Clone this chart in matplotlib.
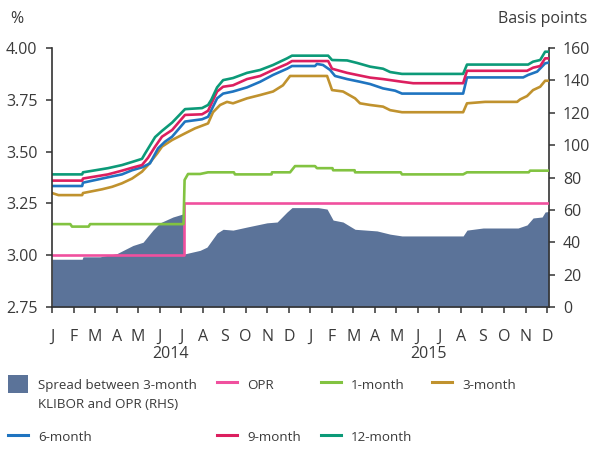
import matplotlib
matplotlib.use('Agg')
import matplotlib.pyplot as plt
import numpy as np
from matplotlib.patches import Patch
from matplotlib.lines import Line2D

plt.rcParams['font.family'] = ['Open Sans', 'DejaVu Sans']

# x positions are months since 1 Jan 2014 (0 = Jan 2014, 12 = Jan 2015)
month_labels = list('JFMAMJJASOND') * 2
years = ['2014', '2015']

# Spread between 3-month KLIBOR and OPR, basis points (RHS)
spread_x = [0, 1.40, 1.44, 2.23, 3.02, 3.76, 4.23, 4.69, 5.02, 5.62, 6.09, 6.13,
            6.88, 7.20, 7.67, 7.95, 8.41, 9.06, 9.99, 10.46, 10.92, 11.15, 12.36,
            12.78, 13.06, 13.52, 14.08, 15.10, 15.71, 16.26, 19.10, 19.28, 20.03,
            21.65, 22.07, 22.35, 22.77, 22.91, 23.09]
spread_bp = [29.5, 29.5, 31, 31, 33, 38, 40, 47.5, 52, 55.6, 57.5, 32.7,
             35, 37, 45.7, 48, 47.5, 49.4, 52, 52.5, 58.7, 61.4, 61.4,
             60.5, 53.7, 52.5, 48, 47, 45, 43.9, 43.9, 47.5, 48.8,
             48.8, 50.7, 55, 55.6, 58.7, 59]

# OPR, %
opr_x = [0, 6.13, 6.13, 23.09]
opr_v = [3.00, 3.00, 3.25, 3.25]

# 1-month KLIBOR, %
m1_x = [0, 0.85, 0.93, 1.70, 1.77, 6.11, 6.16, 6.32, 6.88, 7.25, 8.45, 8.50,
        10.20, 10.22, 11.06, 11.29, 12.22, 12.31, 13.03, 13.06, 14.06, 14.08,
        16.20, 16.26, 19.10, 19.28, 22.15, 22.21, 23.09]
m1_v = [3.15, 3.15, 3.138, 3.138, 3.15, 3.15, 3.363, 3.392, 3.392, 3.40, 3.40, 3.39,
        3.39, 3.40, 3.40, 3.43, 3.43, 3.42, 3.42, 3.41, 3.41, 3.40,
        3.40, 3.39, 3.39, 3.40, 3.40, 3.408, 3.408]

# 3-month KLIBOR, %
m3_x = [0, 0.3, 1.40, 1.44, 2.32, 2.79, 3.25, 3.72, 4.18, 4.46, 4.65, 4.88, 5.11,
        5.58, 6.18, 6.64, 7.25, 7.48, 7.81, 8.13, 8.41, 9.06, 9.67, 10.27, 10.73,
        11.06, 12.78, 13.01, 13.52, 14.08, 14.31, 14.78, 15.38, 15.71, 16.26,
        19.10, 19.28, 20.12, 21.61, 21.75, 22.07, 22.35, 22.68, 22.91, 23.09]
m3_v = [3.30, 3.29, 3.29, 3.30, 3.318, 3.33, 3.347, 3.37, 3.403, 3.435, 3.46, 3.49, 3.524,
        3.556, 3.588, 3.612, 3.636, 3.69, 3.725, 3.74, 3.733, 3.757, 3.773, 3.79, 3.82,
        3.865, 3.865, 3.797, 3.79, 3.757, 3.733, 3.725, 3.717, 3.70, 3.69,
        3.69, 3.733, 3.74, 3.74, 3.752, 3.768, 3.797, 3.813, 3.842, 3.842]

# 6-month KLIBOR, %
m6_x = [0, 1.40, 1.44, 2.60, 3.25, 3.72, 4.18, 4.55, 4.93, 5.25, 5.58, 6.18, 6.97,
        7.25, 7.67, 7.95, 8.41, 9.06, 9.67, 10.27, 10.92, 11.15, 12.22, 12.31,
        12.59, 12.92, 13.15, 13.71, 14.31, 14.78, 15.38, 15.94, 16.26, 19.10,
        19.28, 21.89, 22.12, 22.54, 22.91, 23.09]
m6_v = [3.334, 3.334, 3.35, 3.376, 3.39, 3.41, 3.424, 3.443, 3.516, 3.548, 3.572, 3.645, 3.656,
        3.668, 3.757, 3.78, 3.79, 3.81, 3.837, 3.87, 3.90, 3.913, 3.913, 3.923,
        3.918, 3.894, 3.865, 3.85, 3.837, 3.826, 3.805, 3.794, 3.78, 3.78,
        3.858, 3.858, 3.87, 3.886, 3.926, 3.93]

# 9-month KLIBOR, %
m9_x = [0, 1.40, 1.44, 2.60, 3.25, 3.72, 4.18, 4.46, 4.79, 5.11, 5.58, 6.18, 6.97,
        7.25, 7.67, 7.95, 8.41, 9.06, 9.67, 10.27, 10.92, 11.15, 12.83, 13.01,
        13.71, 14.17, 14.78, 15.38, 16.26, 16.78, 19.10, 19.28, 22.07, 22.35,
        22.68, 22.91, 23.09]
m9_v = [3.36, 3.36, 3.37, 3.39, 3.408, 3.422, 3.435, 3.47, 3.524, 3.572, 3.604, 3.677, 3.68,
        3.697, 3.79, 3.813, 3.82, 3.85, 3.865, 3.894, 3.923, 3.937, 3.937, 3.90,
        3.88, 3.87, 3.857, 3.85, 3.837, 3.83, 3.83, 3.89, 3.89, 3.905,
        3.913, 3.95, 3.95]

# 12-month KLIBOR, %
m12_x = [0, 1.40, 1.44, 2.60, 3.25, 3.72, 4.18, 4.32, 4.79, 5.11, 5.58, 6.18, 6.97,
         7.25, 7.40, 7.67, 7.95, 8.41, 9.06, 9.67, 10.27, 10.92, 11.15, 12.83,
         13.01, 13.71, 14.17, 14.78, 15.38, 15.71, 16.26, 19.10, 19.28, 22.12,
         22.35, 22.68, 22.91, 23.09]
m12_v = [3.39, 3.39, 3.40, 3.42, 3.435, 3.45, 3.465, 3.49, 3.57, 3.60, 3.64, 3.705, 3.71,
         3.725, 3.75, 3.81, 3.845, 3.855, 3.88, 3.894, 3.918, 3.95, 3.963, 3.963,
         3.942, 3.94, 3.928, 3.91, 3.90, 3.884, 3.875, 3.875, 3.92, 3.92,
         3.934, 3.942, 3.982, 3.982]

# Colours
c_area = '#5b7399'
c_opr = '#f0509e'
c_1m = '#82c341'
c_3m = '#c0922e'
c_6m = '#1f74c0'
c_9m = '#dc1f5f'
c_12m = '#0c9a78'
text_c = '#3a3a3a'
axis_c = '#333333'

fig = plt.figure(figsize=(5.97, 4.55), dpi=100)
ax = fig.add_axes([52 / 597, 1 - 307 / 455, (549 - 52) / 597, (307 - 48) / 455])
axr = ax.twinx()
ax.set_zorder(2)
axr.set_zorder(1)
ax.patch.set_visible(False)

# Spread area on right axis
axr.fill_between(spread_x, 0, spread_bp, color=c_area, linewidth=0)
axr.set_ylim(0, 160)
axr.set_yticks(np.arange(0, 161, 20))

lw = 1.9
ax.plot(opr_x, opr_v, color=c_opr, lw=lw)
ax.plot(m1_x, m1_v, color=c_1m, lw=lw)
ax.plot(m3_x, m3_v, color=c_3m, lw=lw)
ax.plot(m6_x, m6_v, color=c_6m, lw=lw)
ax.plot(m9_x, m9_v, color=c_9m, lw=lw)
ax.plot(m12_x, m12_v, color=c_12m, lw=lw)

ax.set_xlim(0, 23.09)
ax.set_ylim(2.75, 4.00)
ax.set_yticks(np.arange(2.75, 4.01, 0.25))
ax.set_yticklabels([f'{v:.2f}' for v in np.arange(2.75, 4.01, 0.25)])
ax.set_xticks(np.arange(24))
ax.set_xticklabels(month_labels)

for a in (ax, axr):
    a.spines['top'].set_visible(False)
    for s in ('left', 'right', 'bottom'):
        a.spines[s].set_color(axis_c)
        a.spines[s].set_linewidth(1.2)
ax.spines['right'].set_visible(False)
axr.spines['left'].set_visible(False)
axr.spines['bottom'].set_visible(False)

ax.tick_params(axis='y', length=4.5, width=1.1, color=axis_c, labelsize=11.5,
               labelcolor=text_c, pad=6)
ax.tick_params(axis='x', length=4.5, width=1.1, color=axis_c, labelsize=11.5,
               labelcolor=text_c, pad=11)
axr.tick_params(axis='y', length=4, width=1.1, color=axis_c, labelsize=11.5,
                labelcolor=text_c, pad=6)

# Year labels under the month ticks
for i, yr in enumerate(years):
    ax.text(5.5 + 12 * i, -0.181, yr, transform=ax.get_xaxis_transform(),
            ha='center', va='center', fontsize=11.5, color=text_c)

fig.text(10 / 597, 1 - 19 / 455, '%', ha='left', va='center', fontsize=11.5, color=text_c)
fig.text(587 / 597, 1 - 19 / 455, 'Basis points', ha='right', va='center',
         fontsize=11.5, color=text_c)

# Legend, filled column by column
handles = [
    Patch(facecolor=c_area, edgecolor='none'),
    Line2D([], [], color=c_6m, lw=2.2),
    Line2D([], [], color=c_opr, lw=2.2),
    Line2D([], [], color=c_9m, lw=2.2),
    Line2D([], [], color=c_1m, lw=2.2),
    Line2D([], [], color=c_12m, lw=2.2),
    Line2D([], [], color=c_3m, lw=2.2),
]
labels = ['Spread between 3-month', '6-month', 'OPR', '9-month',
          '1-month', '12-month', '3-month']
leg = fig.legend(handles, labels, ncol=4, loc='upper left',
                 bbox_to_anchor=(8 / 597, 1 - 375 / 455), frameon=False,
                 borderpad=0, borderaxespad=0, fontsize=9.6,
                 handlelength=1.5, handleheight=1.75, handletextpad=0.75,
                 columnspacing=1.5, labelspacing=2.58)
for t in leg.get_texts():
    t.set_color(text_c)
fig.text(38 / 597, 1 - 404 / 455, 'KLIBOR and OPR (RHS)', ha='left', va='center',
         fontsize=9.6, color=text_c)

fig.savefig('out.png', dpi=100)
